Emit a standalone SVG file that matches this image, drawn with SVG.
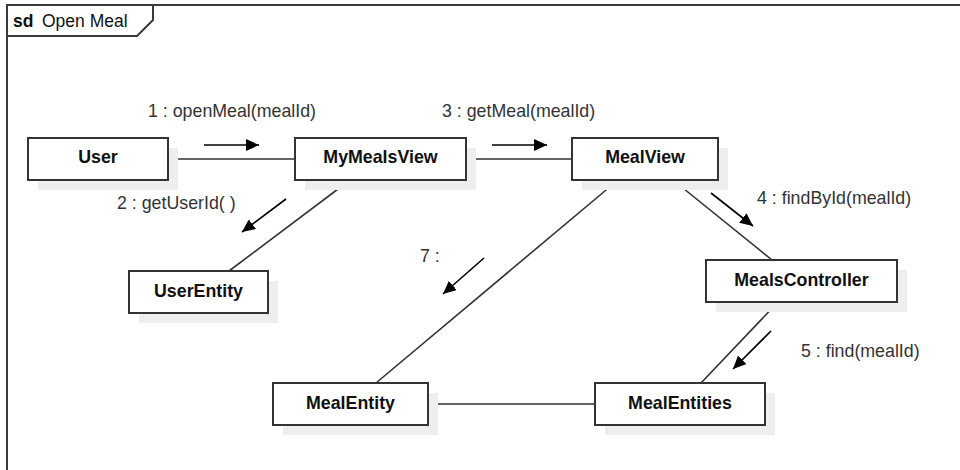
<svg xmlns="http://www.w3.org/2000/svg" width="960" height="470" viewBox="0 0 960 470">
  <defs>
    <marker id="msgHead" markerUnits="userSpaceOnUse" markerWidth="14" markerHeight="12" refX="13" refY="6" orient="auto">
      <path d="M0,0 L13,6 L0,12 z" fill="#000"/>
    </marker>
  </defs>
  <style>
    .frame { fill: none; stroke: #3a3a3a; stroke-width: 2; }
    .shadow { fill: #eeeeee; }
    .box { fill: #ffffff; stroke: #333333; stroke-width: 2; }
    .name { font-family: "Liberation Sans", Arial, sans-serif; font-size: 17.8px; font-weight: bold; fill: #111; text-anchor: middle; }
    .link { stroke: #333333; stroke-width: 1.6; fill: none; }
    .msg { stroke: #000; stroke-width: 1.6; fill: none; marker-end: url(#msgHead); }
    .label { font-family: "Liberation Sans", Arial, sans-serif; font-size: 17.8px; fill: #333; }
    .title { font-family: "Liberation Sans", Arial, sans-serif; font-size: 17.5px; fill: #111; }
  </style>

  <rect width="960" height="470" fill="#ffffff"/>

  <!-- sequence frame with its name tab -->
  <g id="frame">
    <path class="frame" d="M7,470 L7,5 L960,5"/>
    <path class="frame" d="M7,36 L137,36 L153,20 L153,5"/>
    <text class="title" x="13" y="27" font-weight="bold">sd</text>
    <text class="title" x="42" y="27">Open Meal</text>
  </g>

  <!-- links between lifelines -->
  <g id="connectors">
    <line class="link" x1="168" y1="159" x2="295" y2="159"/>
    <line class="link" x1="466" y1="159" x2="572" y2="159"/>
    <line class="link" x1="350" y1="180" x2="229" y2="271"/>
    <line class="link" x1="673" y1="180" x2="772" y2="260"/>
    <line class="link" x1="618" y1="180" x2="376" y2="383"/>
    <line class="link" x1="778" y1="302" x2="701" y2="383"/>
    <line class="link" x1="428" y1="404" x2="595" y2="404"/>
  </g>

  <!-- messages -->
  <g id="messages">
    <line class="msg" x1="204" y1="145" x2="259" y2="145"/>
    <text class="label" x="148" y="117">1 : openMeal(mealId)</text>
    <line class="msg" x1="286" y1="199" x2="242" y2="232"/>
    <text class="label" x="117" y="209">2 : getUserId( )</text>
    <line class="msg" x1="492" y1="145" x2="547" y2="145"/>
    <text class="label" x="442" y="117">3 : getMeal(mealId)</text>
    <line class="msg" x1="711" y1="193" x2="753" y2="226"/>
    <text class="label" x="757" y="204">4 : findById(mealId)</text>
    <line class="msg" x1="771" y1="331" x2="733" y2="369"/>
    <text class="label" x="801" y="357">5 : find(mealId)</text>
    <line class="msg" x1="484" y1="258" x2="443" y2="294"/>
    <text class="label" x="420" y="262">7 :</text>
  </g>

  <g id="user">
    <rect class="shadow" x="38" y="148" width="140" height="42"/>
    <rect class="box" x="28" y="138" width="140" height="42"/>
    <text class="name" x="98" y="163">User</text>
  </g>

  <g id="myMealsView">
    <rect class="shadow" x="305" y="148" width="171" height="42"/>
    <rect class="box" x="295" y="138" width="171" height="42"/>
    <text class="name" x="380.5" y="163">MyMealsView</text>
  </g>

  <g id="mealView">
    <rect class="shadow" x="582" y="148" width="146" height="42"/>
    <rect class="box" x="572" y="138" width="146" height="42"/>
    <text class="name" x="645" y="163">MealView</text>
  </g>

  <g id="userEntity">
    <rect class="shadow" x="139" y="281" width="139" height="42"/>
    <rect class="box" x="129" y="271" width="139" height="42"/>
    <text class="name" x="198.5" y="296.5">UserEntity</text>
  </g>

  <g id="mealsController">
    <rect class="shadow" x="716" y="270" width="191" height="42"/>
    <rect class="box" x="706" y="260" width="191" height="42"/>
    <text class="name" x="801.5" y="285.5">MealsController</text>
  </g>

  <g id="mealEntity">
    <rect class="shadow" x="283" y="393" width="155" height="42"/>
    <rect class="box" x="273" y="383" width="155" height="42"/>
    <text class="name" x="350.5" y="408.5">MealEntity</text>
  </g>

  <g id="mealEntities">
    <rect class="shadow" x="605" y="393" width="170" height="42"/>
    <rect class="box" x="595" y="383" width="170" height="42"/>
    <text class="name" x="680" y="408.5">MealEntities</text>
  </g>
</svg>
